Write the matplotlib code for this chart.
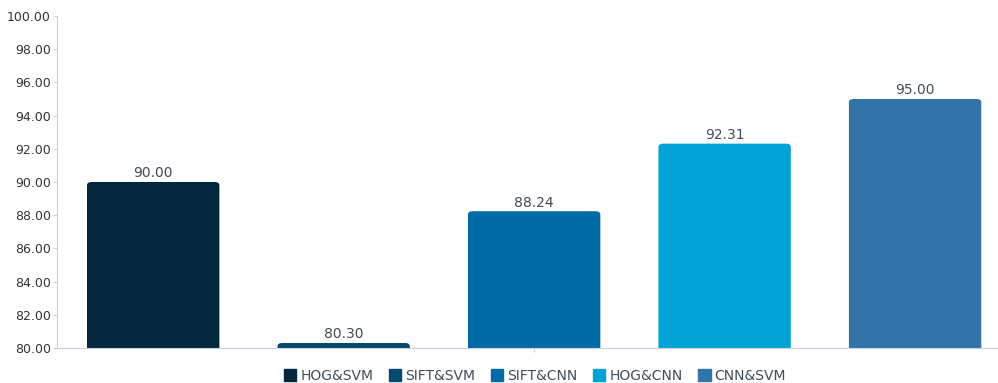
import matplotlib.pyplot as plt
from matplotlib.patches import FancyBboxPatch
from matplotlib.ticker import FormatStrFormatter

# Accuracy (%) by method
methods = ['HOG&SVM', 'SIFT&SVM', 'SIFT&CNN', 'HOG&CNN', 'CNN&SVM']
accuracy = [90.00, 80.30, 88.24, 92.31, 95.00]
colors = ['#02273c', '#034a70', '#016ba6', '#00a3d4', '#3273a8']

fig = plt.figure(figsize=(9.98, 3.83), dpi=100)
ax = fig.add_axes([57 / 998, 1 - 348 / 383, 940 / 998, 332 / 383])

width = 0.695
positions = [i - 2 for i in range(len(methods))]
bars = ax.bar(positions, accuracy, width=width, color=colors, label=methods)

# replace plain bars with slightly rounded ones
for rect, c in zip(bars, colors):
    rect.set_visible(False)
    x, w = rect.get_x(), rect.get_width()
    h = rect.get_height()
    p = FancyBboxPatch((x, 70), w, h - 70,
                       boxstyle='round,pad=0,rounding_size=0.025',
                       mutation_aspect=8,
                       facecolor=c, edgecolor='none', clip_on=True)
    ax.add_patch(p)

for xpos, v in zip(positions, accuracy):
    ax.text(xpos, v + 0.1, f'{v:.2f}', ha='center', va='bottom',
            fontsize=10, color='#3d4f5c')

ax.set_ylim(80, 100)
ax.set_xlim(-2.505, 2.43)
ax.set_yticks(range(80, 101, 2))
ax.yaxis.set_major_formatter(FormatStrFormatter('%.2f'))
ax.set_xticks([0])
ax.set_xticklabels([''])
ax.tick_params(axis='y', labelsize=9, labelcolor='#333333', color='#c8d3dc',
               length=3, width=0.8, pad=1.5)
ax.tick_params(axis='x', color='#c8d3dc', length=3, width=0.8)
for s in ['top', 'right']:
    ax.spines[s].set_visible(False)
ax.spines['left'].set_color('#c8d3dc')
ax.spines['bottom'].set_color('#c8d3dc')

handles = [plt.Rectangle((0, 0), 1, 1, color=c) for c in colors]
fig.legend(handles, methods, loc='center', bbox_to_anchor=(535 / 998, 1 - 376 / 383),
           ncol=5, frameon=False, fontsize=10, handlelength=0.9, handleheight=0.9,
           handletextpad=0.3, columnspacing=1.1, labelcolor='#3d4f5c')

fig.savefig('out.png', dpi=100)
